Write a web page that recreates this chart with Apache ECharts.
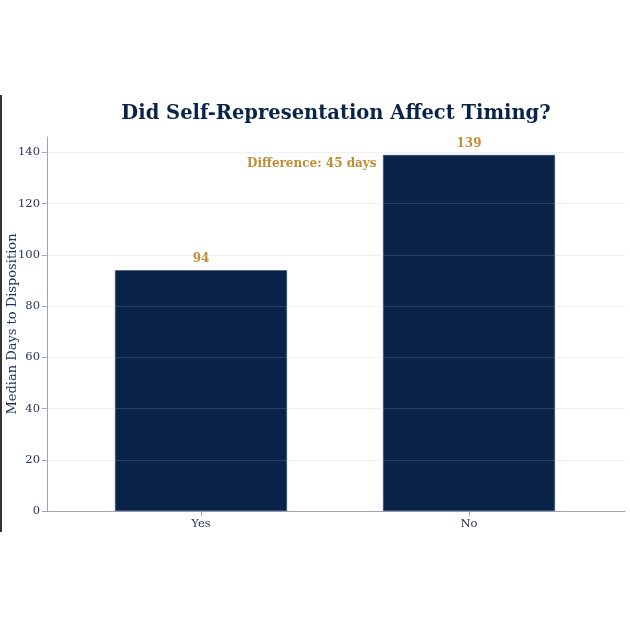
<!DOCTYPE html>
<html lang="en">
<head>
  <meta charset="UTF-8">
  <title>Did Self-Representation Affect Timing?</title>
  <script src="https://cdn.jsdelivr.net/npm/echarts@6/dist/echarts.min.js"></script>
  <style>
    html, body { margin: 0; padding: 0; background: #fff; }
    #chart { width: 630px; height: 630px; }
  </style>
</head>
<body>
  <div id="chart"></div>
  <script>
    // data
    const categories = ['Yes', 'No'];
    const medianDays = [94, 139];
    const yTicks = [0, 20, 40, 60, 80, 100, 120, 140];
    const diffText = 'Difference: 45 days';

    const navy = '#0a2349';
    const gold = '#c18d35';
    const serif = 'Georgia, "DejaVu Serif", serif';

    let myChart = echarts.init(document.getElementById('chart'));

    let option = {
      animation: false,
      title: {
        text: 'Did Self-Representation Affect Timing?',
        left: 331,
        top: 99,
        textAlign: 'center',
        textStyle: { color: navy, fontFamily: serif, fontWeight: 'bold', fontSize: 19.5 }
      },
      grid: { left: 47, right: 5, top: 137, bottom: 119, outerBoundsMode: 'none' },
      xAxis: {
        type: 'value',
        min: -0.5746,
        max: 1.582,
        splitLine: { show: false },
        axisLine: { show: true, onZero: false, lineStyle: { color: '#9ea3b5', width: 1 } },
        axisTick: { show: true, customValues: [0, 1], length: 5, lineStyle: { color: '#9ea3b5' } },
        axisLabel: {
          customValues: [0, 1],
          formatter: v => categories[Math.round(v)],
          color: '#2a3558', fontFamily: serif, fontSize: 11.5, margin: 7
        }
      },
      yAxis: {
        type: 'value',
        min: 0,
        max: 146,
        name: 'Median Days to Disposition',
        nameLocation: 'middle',
        nameGap: 28,
        nameMoveOverlap: false,
        nameTextStyle: { color: '#22305a', fontFamily: serif, fontSize: 13 },
        axisLine: { show: true, onZero: false, lineStyle: { color: '#9ea3b5', width: 1 } },
        axisTick: { show: true, customValues: yTicks, length: 5, lineStyle: { color: '#9ea3b5' } },
        axisLabel: {
          customValues: yTicks,
          color: '#2a3558', fontFamily: serif, fontSize: 11.5, margin: 7
        },
        splitLine: { show: true, lineStyle: { color: '#eeeeee', width: 1 } }
      },
      graphic: [
        { type: 'rect', shape: { x: 0, y: 95, width: 2, height: 437 }, style: { fill: '#333' } }
      ],
      series: [
        {
          type: 'bar',
          barWidth: 172,
          data: medianDays.map((v, i) => [i, v]),
          itemStyle: { color: navy, borderColor: '#3a4a70', borderWidth: 0.6 },
          label: {
            show: true,
            position: 'top',
            distance: 5,
            color: gold,
            fontFamily: serif,
            fontWeight: 'bold',
            fontSize: 12
          },
          markLine: {
            silent: true,
            symbol: 'none',
            label: { show: false },
            lineStyle: { color: 'rgba(255,255,255,0.13)', type: 'solid', width: 1 },
            data: yTicks.slice(1).map(t => ({ yAxis: t }))
          },
          markPoint: {
            silent: true,
            symbol: 'circle',
            symbolSize: 0,
            label: {
              show: true,
              position: 'left',
              distance: 0,
              formatter: diffText,
              color: gold,
              fontFamily: serif,
              fontWeight: 'bold',
              fontSize: 12
            },
            data: [{ coord: [0.655, 135.5] }]
          }
        }
      ]
    };

    myChart.setOption(option);

    window.onresize = function () {
      myChart.resize();
    };
  </script>
</body>
</html>
